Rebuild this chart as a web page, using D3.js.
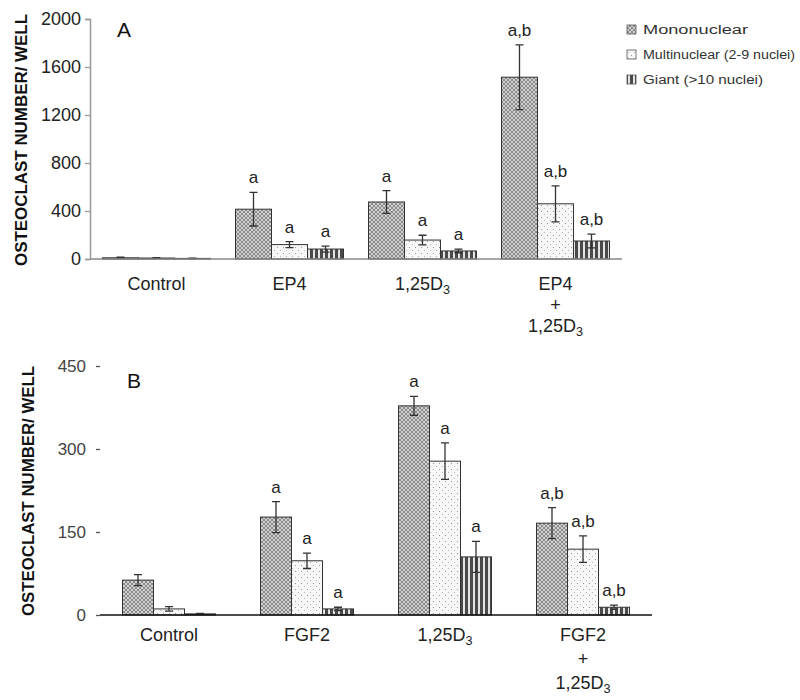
<!DOCTYPE html>
<html><head><meta charset="utf-8">
<script src="https://cdn.jsdelivr.net/npm/d3@7"></script>
<style>body{margin:0;background:#fff}svg{display:block}text{font-family:"Liberation Sans",Arial,sans-serif}</style>
</head><body><svg id="c" width="800" height="700"></svg>
<script>
// ---- data ----
const seriesNames = ["Mononuclear", "Multinuclear (2-9 nuclei)", "Giant (>10 nuclei)"];
const categoriesA = [["Control"], ["EP4"], ["1,25D_3"], ["EP4", "+", "1,25D_3"]];
const monoA = [10, 415, 475, 1515];
const monoErrA = [5, 140, 95, 270];
const multiA = [8, 120, 158, 460];
const multiErrA = [3, 25, 40, 150];
const giantA = [5, 83, 67, 150];
const giantErrA = [3, 25, 15, 58];
const sigMonoA = ["", "a", "a", "a,b"];
const sigMultiA = ["", "a", "a", "a,b"];
const sigGiantA = ["", "a", "a", "a,b"];
const ticksA = [0, 400, 800, 1200, 1600, 2000];

const categoriesB = [["Control"], ["FGF2"], ["1,25D_3"], ["FGF2", "+", "1,25D_3"]];
const monoB = [63, 177, 378, 166];
const monoErrB = [10, 28, 17, 28];
const multiB = [11, 98, 278, 119];
const multiErrB = [4, 14, 33, 24];
const giantB = [2, 11, 105, 14];
const giantErrB = [1, 3, 28, 4];
const sigMonoB = ["", "a", "a", "a,b"];
const sigMultiB = ["", "a", "a", "a,b"];
const sigGiantB = ["", "a", "a", "a,b"];
const ticksB = [0, 150, 300, 450];

const svg = d3.select("#c");
const defs = svg.append("defs");
// mononuclear: fine grey crosshatch
const p1 = defs.append("pattern").attr("id","pMono").attr("patternUnits","userSpaceOnUse").attr("width",4).attr("height",4);
p1.append("rect").attr("width",4).attr("height",4).attr("fill","#d2d2d2");
[[0,0],[1,1],[2,2],[3,3],[3,0],[2,1],[1,2],[0,3]].forEach(([px,py]) =>
  p1.append("rect").attr("x",px).attr("y",py).attr("width",1).attr("height",1).attr("fill","#8a8a8a"));
// multinuclear: light dots
const p2 = defs.append("pattern").attr("id","pMulti").attr("patternUnits","userSpaceOnUse").attr("width",6).attr("height",6);
p2.append("rect").attr("width",6).attr("height",6).attr("fill","#f7f7f7");
p2.append("rect").attr("x",1).attr("y",1).attr("width",1).attr("height",1).attr("fill","#9a9a9a");
p2.append("rect").attr("x",4).attr("y",4).attr("width",1).attr("height",1).attr("fill","#b4b4b4");
// giant: vertical stripes
const p3 = defs.append("pattern").attr("id","pGiant").attr("patternUnits","userSpaceOnUse").attr("width",5).attr("height",5);
p3.append("rect").attr("width",5).attr("height",5).attr("fill","#e4e4e4");
p3.append("rect").attr("x",0).attr("width",3).attr("height",5).attr("fill","#4a4a4a");
const fills = ["url(#pMono)", "url(#pMulti)", "url(#pGiant)"];

function labelLine(sel, str, x, y, size) {
  const t = sel.append("text").attr("x", x).attr("y", y).attr("text-anchor","middle")
    .attr("font-size", size).attr("fill","#222");
  const parts = str.split("_");
  t.append("tspan").text(parts[0]);
  if (parts[1]) t.append("tspan").attr("font-size", size*0.7).attr("dy", 4).text(parts[1]);
}

function panel(o) {
  const g = svg.append("g");
  const x = d3.scaleBand().domain(d3.range(o.cats.length)).range([o.x0, o.x1]).paddingInner(0).paddingOuter(0);
  const y = d3.scaleLinear().domain([0, o.max]).range([o.yBase, o.yTop]);
  const inner = d3.scaleBand().domain([0,1,2]).range([0, o.groupW]);
  const series = [
    {v:o.mono, e:o.monoErr, s:o.sigMono},
    {v:o.multi, e:o.multiErr, s:o.sigMulti},
    {v:o.giant, e:o.giantErr, s:o.sigGiant}
  ];
  series.forEach((ser, si) => {
    ser.v.forEach((v, ci) => {
      const bx = x(ci) + (x.bandwidth() - o.groupW)/2 + inner(si);
      const bw = inner.bandwidth();
      g.append("rect").attr("x", bx).attr("y", y(v)).attr("width", bw).attr("height", y(0) - y(v))
        .attr("fill", fills[si]).attr("stroke", "#333").attr("stroke-width", 1);
      const cx = bx + bw/2;
      const e = ser.e[ci];
      g.append("path").attr("d", `M${cx},${y(v+e)}V${y(Math.max(0,v-e))}M${cx-4},${y(v+e)}H${cx+4}M${cx-4},${y(Math.max(0,v-e))}H${cx+4}`)
        .attr("stroke","#333").attr("stroke-width",1.3).attr("fill","none");
      if (ser.s[ci]) g.append("text").attr("x", cx).attr("y", y(v+e) - 9).attr("text-anchor","middle")
        .attr("font-size", o.sigSize).attr("fill","#222").text(ser.s[ci]);
    });
  });
  g.append("line").attr("x1", o.x0).attr("x2", o.x1).attr("y1", y(0)).attr("y2", y(0)).attr("stroke", o.xAxisColor).attr("stroke-width", 1.5);
  const ya = d3.axisLeft(y).tickValues(o.ticks).tickSize(o.tickLen).tickPadding(o.tickPad).tickFormat(d3.format("d"));
  const ag = g.append("g").attr("transform", `translate(${o.x0},0)`).call(ya);
  ag.select(".domain").attr("stroke", o.yAxisColor).attr("stroke-width", o.showDomain ? 1.5 : 0);
  ag.selectAll(".tick line").attr("stroke", o.yAxisColor).attr("stroke-width", 1.3);
  ag.selectAll(".tick text").attr("font-size", o.tickSize).attr("fill", o.tickColor).attr("font-family","Liberation Sans, Arial, sans-serif");
  o.cats.forEach((lines, ci) => {
    lines.forEach((ln, li) => labelLine(g, ln, x(ci) + x.bandwidth()/2, o.catY + li*o.catDy, o.catSize));
  });
  g.append("text").attr("transform", `translate(${o.titleX},${o.titleY}) rotate(-90)`).attr("text-anchor","middle")
    .attr("font-size", o.titleSize).attr("font-weight","bold").attr("fill","#111")
    .attr("textLength", o.titleLen).attr("lengthAdjust","spacingAndGlyphs").text("OSTEOCLAST NUMBER/ WELL");
  g.append("text").attr("x", o.letterX).attr("y", o.letterY).attr("font-size", 21).attr("fill","#111").text(o.letter);
}

panel({cats:categoriesA, mono:monoA, monoErr:monoErrA, multi:multiA, multiErr:multiErrA, giant:giantA, giantErr:giantErrA,
  sigMono:sigMonoA, sigMulti:sigMultiA, sigGiant:sigGiantA, ticks:ticksA, max:2000,
  x0:90, x1:622, yBase:259, yTop:19, groupW:108, sigSize:17, xAxisColor:"#888", yAxisColor:"#999", showDomain:true,
  tickLen:5, tickPad:4, tickSize:18, tickColor:"#222", catY:290, catDy:21, catSize:18,
  titleX:27, titleY:140, titleSize:16, titleLen:252, letter:"A", letterX:117, letterY:37});

panel({cats:categoriesB, mono:monoB, monoErr:monoErrB, multi:multiB, multiErr:multiErrB, giant:giantB, giantErr:giantErrB,
  sigMono:sigMonoB, sigMulti:sigMultiB, sigGiant:sigGiantB, ticks:ticksB, max:450,
  x0:100, x1:652, yBase:615, yTop:366, groupW:93, sigSize:17, xAxisColor:"#111", yAxisColor:"#555", showDomain:false,
  tickLen:4, tickPad:10, tickSize:17, tickColor:"#444", catY:641, catDy:24, catSize:18,
  titleX:34, titleY:491, titleSize:16, titleLen:250, letter:"B", letterX:127, letterY:388});

const lg = svg.append("g");
seriesNames.forEach((n, i) => {
  const yy = [30, 55, 80][i];
  lg.append("rect").attr("x", 627).attr("y", yy - 5).attr("width", 9).attr("height", 9)
    .attr("fill", fills[i]).attr("stroke", "#555").attr("stroke-width", 0.8);
  lg.append("text").attr("x", 643).attr("y", yy + 4).attr("font-size", 12.5).attr("fill","#333")
    .attr("textLength", [105, 152, 120][i]).attr("lengthAdjust","spacingAndGlyphs").text(n);
});
</script></body></html>
